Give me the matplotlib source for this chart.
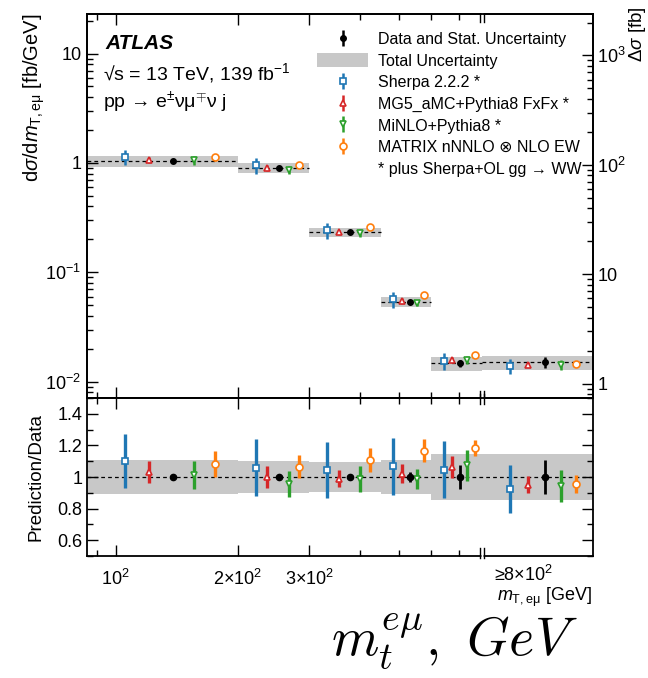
"""Recreate the ATLAS m_T,emu differential cross-section plot with ratio panel."""

import numpy as np
import matplotlib.pyplot as plt
from matplotlib.lines import Line2D
from matplotlib.patches import Patch
from matplotlib.ticker import FixedLocator, FuncFormatter, MultipleLocator, NullFormatter
from matplotlib.transforms import ScaledTranslation

plt.rcParams['font.family'] = ['Liberation Sans', 'DejaVu Sans']
plt.rcParams['mathtext.fontset'] = 'custom'
plt.rcParams['mathtext.rm'] = 'Liberation Sans'
plt.rcParams['mathtext.it'] = 'Liberation Sans:italic'
plt.rcParams['mathtext.bf'] = 'Liberation Sans:bold'

# bins in m_T,emu [GeV]; last bin is the >=800 overflow, drawn up to 1500
bin_edges = [85, 200, 300, 450, 600, 800, 1500]
data_xs = [1.04, 0.90, 0.234, 0.0535, 0.0148, 0.0151]   # fb/GeV
data_stat = [0.01, 0.015, 0.02, 0.03, 0.077, 0.11]      # relative
total_unc = [0.11, 0.10, 0.095, 0.107, 0.145, 0.145]    # relative

# prediction / data and their relative uncertainties
sherpa_ratio = [1.10, 1.058, 1.045, 1.068, 1.045, 0.923]
sherpa_err = [0.17, 0.18, 0.175, 0.18, 0.18, 0.15]
mg5_ratio = [1.03, 1.0, 0.99, 1.02, 1.066, 0.951]
mg5_err = [0.07, 0.07, 0.055, 0.06, 0.07, 0.055]
minlo_ratio = [1.013, 0.955, 0.987, 0.987, 1.073, 0.944]
minlo_err = [0.09, 0.08, 0.085, 0.065, 0.10, 0.10]
matrix_ratio = [1.083, 1.066, 1.109, 1.167, 1.184, 0.955]
matrix_err = [0.08, 0.075, 0.075, 0.075, 0.05, 0.055]

# (label, ratio, err, marker, colour, slot within the bin)
predictions = [
    ('Sherpa 2.2.2 *', sherpa_ratio, sherpa_err, 's', '#1f77b4', 0),
    ('MG5_aMC+Pythia8 FxFx *', mg5_ratio, mg5_err, '^', '#d62728', 1),
    ('MiNLO+Pythia8 *', minlo_ratio, minlo_err, 'v', '#2ca02c', 3),
    ('MATRIX nNNLO \u2297 NLO EW', matrix_ratio, matrix_err, 'o', '#ff7f0e', 4),
]
slot_frac = [0.25, 0.41, 0.57, 0.71, 0.85]
band_color = '#c8c8c8'

W, H = 648, 678


def fx(px):
    return px / W


def fy(py):
    return 1 - py / H


def slot_x(slot):
    lo = np.log10(bin_edges[:-1])
    hi = np.log10(bin_edges[1:])
    return 10 ** (lo + slot_frac[slot] * (hi - lo))


def log_label(v, pos):
    e = int(round(np.log10(v)))
    if e in (0, 1):
        return str(int(round(v)))
    return '$10^{%d}$' % e


def add_break(ax, where, outside=3, inside=8):
    """Draw the || axis-break marks at x=800 GeV on the top or bottom spine."""
    fig = ax.figure
    h = ax.bbox.height
    y0 = 0 if where == 'bottom' else 1
    sgn = 1 if where == 'bottom' else -1
    base = ax.get_xaxis_transform()
    xb = bin_edges[5]
    ax.plot([xb * 0.993, xb * 1.007], [y0, y0], color='white', lw=2.5, transform=base,
            clip_on=False, zorder=10, solid_capstyle='butt')
    for dx in (-2.3, 2.3):
        t = base + ScaledTranslation(dx / 100, 0, fig.dpi_scale_trans)
        ax.plot([xb, xb], [y0 - sgn * outside / h, y0 + sgn * inside / h], color='black',
                lw=1.0, transform=t, clip_on=False, zorder=11)


fig = plt.figure(figsize=(W / 100, H / 100), dpi=100)
ax = fig.add_axes([fx(87), fy(398), fx(593) - fx(87), fy(14) - fy(398)])
axr = fig.add_axes([fx(87), fy(556), fx(593) - fx(87), fy(398) - fy(556)], sharex=ax)

data_x = slot_x(2)
data_arr = np.array(data_xs)

# ---- main panel ----
for i in range(len(data_xs)):
    lo, hi = bin_edges[i], bin_edges[i + 1]
    d, u = data_xs[i], total_unc[i]
    ax.fill_between([lo, hi], d * (1 - u), d * (1 + u), color=band_color, lw=0, zorder=1)
    ax.plot([lo, hi], [d, d], color='black', lw=0.9, dashes=(3, 2.5), zorder=2)

handles = {}
for label, ratio, err, mk, col, slot in predictions:
    h = ax.errorbar(slot_x(slot), data_arr * np.array(ratio), yerr=data_arr * np.array(err),
                    fmt=mk, mfc='white', mec=col, color=col, ms=5, mew=1.2,
                    elinewidth=1.8, capsize=0, zorder=4)
    handles[label] = h
h_data = ax.errorbar(data_x, data_arr, yerr=data_arr * np.array(data_stat), fmt='o',
                     color='black', ms=4, elinewidth=1.8, capsize=0, zorder=5)

ax.set_xscale('log')
ax.set_yscale('log')
ax.set_xlim(bin_edges[0], bin_edges[-1])
ylo, yhi = 0.0071, 23.0
ax.set_ylim(ylo, yhi)
ax.yaxis.set_major_formatter(FuncFormatter(log_label))
ax.tick_params(axis='both', which='both', direction='in', top=True, right=False,
               labelbottom=False, labelsize=13, pad=4)
ax.tick_params(which='major', length=8, width=1)
ax.tick_params(which='minor', length=4.5, width=1)
ax.xaxis.set_major_locator(FixedLocator([100, 200, 300]))
ax.xaxis.set_minor_locator(FixedLocator([90, 400, 500, 600, 700]))
ax.xaxis.set_major_formatter(NullFormatter())
ax.xaxis.set_minor_formatter(NullFormatter())

axt = ax.twinx()
axt.set_yscale('log')
axt.set_ylim(ylo * 104, yhi * 104)
axt.yaxis.set_major_formatter(FuncFormatter(log_label))
axt.tick_params(axis='y', which='both', direction='in', labelsize=13, pad=3)
axt.tick_params(which='major', length=8, width=1)
axt.tick_params(which='minor', length=4.5, width=1)

pred_labels = [p[0] for p in predictions]
leg_handles = [h_data, Patch(facecolor=band_color, edgecolor='none')] + \
    [handles[l] for l in pred_labels] + [Line2D([], [], color='none')]
leg_labels = ['Data and Stat. Uncertainty', 'Total Uncertainty'] + pred_labels + \
    ['* plus Sherpa+OL gg \u2192 WW']
ax.legend(leg_handles, leg_labels, loc='upper left', bbox_to_anchor=(0.4545, 0.954),
          frameon=False, fontsize=11.5, borderpad=0, borderaxespad=0,
          handlelength=3.2, handleheight=1.0, handletextpad=0.6, labelspacing=0.37)

fig.text(fx(105), fy(49), 'ATLAS', fontsize=15, fontweight='bold', fontstyle='italic',
         va='baseline')
fig.text(fx(103), fy(80), '\u221as = 13 TeV, 139 fb$^{-1}$', fontsize=14, va='baseline')
fig.text(fx(103), fy(108), 'pp \u2192 e$^{\\pm}$\u03bd\u03bc$^{\\mp}$\u03bd j', fontsize=14,
         va='baseline')

# ---- ratio panel ----
for i in range(len(data_xs)):
    lo, hi = bin_edges[i], bin_edges[i + 1]
    u = total_unc[i]
    axr.fill_between([lo, hi], 1 - u, 1 + u, color=band_color, lw=0, zorder=1)
axr.axhline(1, color='black', lw=0.9, dashes=(3, 2.5), zorder=2)
for label, ratio, err, mk, col, slot in predictions:
    axr.errorbar(slot_x(slot), ratio, yerr=err, fmt=mk, mfc='white', mec=col, color=col,
                 ms=5, mew=1.2, elinewidth=2.4, capsize=0, zorder=4)
axr.errorbar(data_x, np.ones(len(data_xs)), yerr=data_stat, fmt='o', color='black', ms=4.5,
             elinewidth=2.0, capsize=0, zorder=5)

axr.set_ylim(0.5, 1.5)
axr.yaxis.set_major_locator(FixedLocator([0.6, 0.8, 1.0, 1.2, 1.4]))
axr.yaxis.set_minor_locator(MultipleLocator(0.1))
axr.yaxis.set_major_formatter(FuncFormatter(lambda v, p: '%g' % round(v, 2)))
axr.tick_params(axis='both', which='both', direction='in', top=True, right=True,
                labelsize=13)
axr.tick_params(which='major', length=8, width=1)
axr.tick_params(which='minor', length=4.5, width=1)
axr.tick_params(axis='x', pad=9)
axr.xaxis.set_major_locator(FixedLocator([100, 200, 300]))
axr.xaxis.set_minor_locator(FixedLocator([90, 400, 500, 600, 700]))
axr.xaxis.set_major_formatter(FuncFormatter(
    lambda v, p: {100: '$10^2$', 200: '$2{\\times}10^2$', 300: '$3{\\times}10^2$'}.get(int(round(v)), '')))
axr.xaxis.set_minor_formatter(NullFormatter())
axr.text(1010, -0.055, '\u22658\u00d710$^2$', transform=axr.get_xaxis_transform(),
         ha='center', va='top', fontsize=13)

for a in (ax, axt, axr):
    for s in a.spines.values():
        s.set_linewidth(1.3)

add_break(ax, 'top', outside=0, inside=8)
add_break(ax, 'bottom', outside=2, inside=7)
add_break(axr, 'top', outside=4, inside=6)
add_break(axr, 'bottom', outside=2, inside=8)

fig.text(fx(34), fy(14), 'd$\\sigma$/d$m_{\\mathrm{T,e\\mu}}$ [fb/GeV]', rotation=90,
         ha='center', va='top', fontsize=14.5)
fig.text(fx(36), fy(477), 'Prediction/Data', rotation=90, ha='center', va='center',
         fontsize=13.5)
fig.text(fx(637), fy(6), '$\\Delta\\sigma$ [fb]', rotation=90, ha='center', va='top',
         fontsize=13.5)
fig.text(fx(592), fy(597), '$m_{\\mathrm{T,e\\mu}}$ [GeV]', ha='right', va='center',
         fontsize=13)
fig.text(fx(578), fy(655), '$m_t^{e\\mu},\\ GeV$', ha='right', va='baseline', fontsize=39,
         math_fontfamily='cm')

fig.savefig('out.png', dpi=100)
